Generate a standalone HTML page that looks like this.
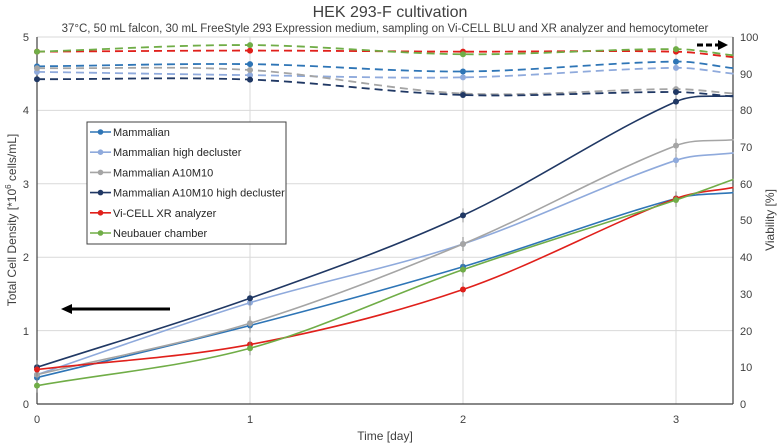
<!DOCTYPE html>
<html><head><meta charset="utf-8"><style>
html,body{margin:0;padding:0;background:#fff;}
svg{display:block;font-family:"Liberation Sans",sans-serif;}
</style></head><body>
<svg id="s" width="780" height="445" viewBox="0 0 780 445">
<rect width="780" height="445" fill="#fff"/>
<g stroke="#d9d9d9" stroke-width="1">
<line x1="37" y1="37" x2="733" y2="37"/>
<line x1="37" y1="110.4" x2="733" y2="110.4"/>
<line x1="37" y1="183.8" x2="733" y2="183.8"/>
<line x1="37" y1="257.2" x2="733" y2="257.2"/>
<line x1="37" y1="330.6" x2="733" y2="330.6"/>
<line x1="250" y1="37" x2="250" y2="404"/>
<line x1="463" y1="37" x2="463" y2="404"/>
<line x1="676" y1="37" x2="676" y2="404"/>
</g>
<g stroke="#404040" stroke-width="1.2">
<line x1="37" y1="37" x2="37" y2="404"/>
<line x1="733" y1="37" x2="733" y2="404"/>
<line x1="37" y1="404" x2="733" y2="404"/>
</g>
<g font-size="11" fill="#404040" text-anchor="end">
<text x="29" y="41">5</text><text x="29" y="114">4</text><text x="29" y="188">3</text>
<text x="29" y="261">2</text><text x="29" y="335">1</text><text x="29" y="408">0</text>
</g>
<g font-size="11" fill="#404040" text-anchor="start">
<text x="740" y="41">100</text><text x="740" y="78">90</text><text x="740" y="114">80</text>
<text x="740" y="151">70</text><text x="740" y="188">60</text><text x="740" y="224">50</text>
<text x="740" y="261">40</text><text x="740" y="298">30</text><text x="740" y="335">20</text>
<text x="740" y="371">10</text><text x="740" y="408">0</text>
</g>
<g font-size="11" fill="#404040" text-anchor="middle">
<text x="37" y="423">0</text><text x="250" y="423">1</text><text x="463" y="423">2</text><text x="676" y="423">3</text>
<text x="385" y="440" font-size="12">Time [day]</text>
</g>
<text x="390" y="17" font-size="16" text-anchor="middle" fill="#404040">HEK 293-F cultivation</text>
<text x="385" y="32" font-size="11.5" text-anchor="middle" fill="#404040">37°C, 50 mL falcon, 30 mL FreeStyle 293 Expression medium, sampling on Vi-CELL BLU and XR analyzer and hemocytometer</text>
<text transform="translate(16,220) rotate(-90)" font-size="12" text-anchor="middle" fill="#404040">Total Cell Density [*10<tspan font-size="8" dy="-5">6</tspan><tspan dy="5"> cells/mL]</tspan></text>
<text transform="translate(774,220) rotate(-90)" font-size="12" text-anchor="middle" fill="#404040">Viability [%]</text>
<g id="series"></g>
<rect x="87" y="122" width="199" height="122" fill="#fff" stroke="#404040" stroke-width="1"/>
<g id="leg" font-size="11" fill="#262626"></g>
<line x1="170" y1="309" x2="70" y2="309" stroke="#000" stroke-width="3"/>
<polygon points="61,309 72,304 72,314" fill="#000"/>
<line x1="697" y1="45" x2="719" y2="45" stroke="#000" stroke-width="3" stroke-dasharray="6,3"/>
<polygon points="728,45 718,40 718,50" fill="#000"/>
</svg>
<script>
var NS="http://www.w3.org/2000/svg";
function X(d){return 37+213*d;}
function YL(v){return 404-73.4*v;}
function YR(v){return 404-3.67*v;}
var S=[
 {n:"Mammalian",c:"#2e75b6",t:[0.36,1.07,1.87,2.8,2.88],v:[92,92.6,90.6,93.3,91.5]},
 {n:"Mammalian high decluster",c:"#8faadc",t:[0.4,1.38,2.18,3.32,3.42],v:[90.5,89.6,89,91.6,90]},
 {n:"Mammalian A10M10",c:"#a5a5a5",t:[0.4,1.1,2.18,3.52,3.6],v:[91.5,91,84.6,85.8,84.6]},
 {n:"Mammalian A10M10 high decluster",c:"#203864",t:[0.5,1.44,2.57,4.12,4.2],v:[88.5,88.4,84.2,85,83.8]},
 {n:"Vi-CELL XR analyzer",c:"#e0201b",t:[0.47,0.81,1.56,2.8,2.95],v:[96,96.3,96,96,94.5]},
 {n:"Neubauer chamber",c:"#70ad47",t:[0.25,0.76,1.83,2.78,3.06],v:[96,97.8,95.3,96.7,95]}
];
var xs=[0,1,2,3,3.27];
function tang(pts,i){
 var a=pts[i-1]||pts[i],b=pts[i+1]||pts[i];
 var dx=b[0]-a[0];if(dx==0)return 0;return (b[1]-a[1])/dx;
}
function path(pts){
 var d="M"+pts[0][0]+","+pts[0][1];
 for(var i=0;i<pts.length-1;i++){
  var p1=pts[i],p2=pts[i+1],h=(p2[0]-p1[0])/3;
  var m1=tang(pts,i),m2=tang(pts,i+1);
  d+=" C"+(p1[0]+h)+","+(p1[1]+m1*h)+" "+(p2[0]-h)+","+(p2[1]-m2*h)+" "+p2[0]+","+p2[1];
 }
 return d;
}
var g=document.getElementById("series"),L=document.getElementById("leg");
function el(t,a,p){var e=document.createElementNS(NS,t);for(var k in a)e.setAttribute(k,a[k]);(p||g).appendChild(e);return e;}
S.forEach(function(s,i){
 var pv=xs.map(function(x,j){return [X(x),YR(s.v[j])];});
 el("path",{d:path(pv),fill:"none",stroke:s.c,"stroke-width":1.8,"stroke-dasharray":"8,5"});
 var pt=xs.map(function(x,j){return [X(x),YL(s.t[j])];});
 el("path",{d:path(pt),fill:"none",stroke:s.c,"stroke-width":1.6});
 for(var j=0;j<4;j++){
  el("line",{x1:pt[j][0],y1:pt[j][1]-7,x2:pt[j][0],y2:pt[j][1]+7,stroke:"#7f7f7f","stroke-width":0.8});
  el("circle",{cx:pt[j][0],cy:pt[j][1],r:3,fill:s.c});
  el("circle",{cx:pv[j][0],cy:pv[j][1],r:3,fill:s.c});
 }
 var y=132+i*20.2;
 el("line",{x1:90,y1:y,x2:111,y2:y,stroke:s.c,"stroke-width":1.6},L);
 el("circle",{cx:100.5,cy:y,r:2.8,fill:s.c},L);
 var t=el("text",{x:113,y:y+4},L);t.textContent=s.n;
});
</script>
</body></html>
